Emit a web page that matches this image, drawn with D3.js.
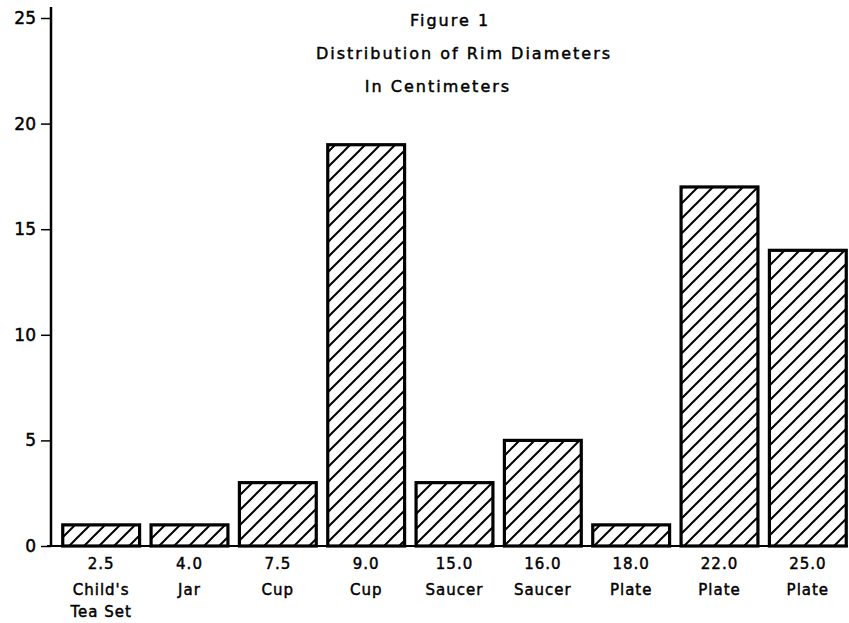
<!DOCTYPE html>
<html>
<head>
<meta charset="utf-8">
<script src="https://cdn.jsdelivr.net/npm/d3@7"></script>
<style>
  body { margin: 0; background: #fff; }
  text { font-family: "DejaVu Sans", sans-serif; fill: #000; stroke: #000; stroke-width: 0.45px; }
</style>
</head>
<body>
<script>
// Rim diameter bins (cm), vessel type and count
const sizes = ["2.5", "4.0", "7.5", "9.0", "15.0", "16.0", "18.0", "22.0", "25.0"];
const vessels = [["Child's", "Tea Set"], ["Jar"], ["Cup"], ["Cup"], ["Saucer"], ["Saucer"], ["Plate"], ["Plate"], ["Plate"]];
const counts = [1, 1, 3, 19, 3, 5, 1, 17, 14];
const yTicks = [0, 5, 10, 15, 20, 25];
const titleLines = ["Figure 1", "Distribution of Rim Diameters", "In Centimeters"];

const width = 849, height = 623;
const margin = {top: 18, right: 0, bottom: 77, left: 51};

const svg = d3.select("body").append("svg")
    .attr("width", width)
    .attr("height", height);

// diagonal "/" hatching
const pat = svg.append("defs").append("pattern")
    .attr("id", "hatch")
    .attr("patternUnits", "userSpaceOnUse")
    .attr("width", 15)
    .attr("height", 15);
pat.append("rect").attr("width", 15).attr("height", 15).attr("fill", "#fff");
pat.append("path")
    .attr("d", "M-2,2 L2,-2 M0,15 L15,0 M13,17 L17,13")
    .attr("stroke", "#000")
    .attr("stroke-width", 2);

let x = d3.scaleBand()
    .domain(sizes)
    .range([57, 852])
    .paddingInner(0.13)
    .paddingOuter(0.065);

let y = d3.scaleLinear()
    .domain([0, 25])
    .range([546, 18]);

// title, each line sits a bit off-centre like the original
const titleX = [450, 464, 438];
svg.selectAll(".title")
    .data(titleLines)
    .enter().append("text")
    .attr("class", "title")
    .attr("x", (d, i) => titleX[i])
    .attr("y", (d, i) => 26 + i * 33)
    .attr("text-anchor", "middle")
    .style("font-size", "16px")
    .style("letter-spacing", "2px")
    .text(d => d);

// bars
svg.selectAll(".bar")
    .data(counts)
    .enter().append("rect")
    .attr("class", "bar")
    .attr("x", (d, i) => x(sizes[i]))
    .attr("y", d => y(d))
    .attr("width", x.bandwidth())
    .attr("height", d => y(0) - y(d))
    .attr("fill", "url(#hatch)")
    .attr("stroke", "#000")
    .attr("stroke-width", 3.2);

// y axis
let yAxis = d3.axisLeft(y)
    .tickValues(yTicks)
    .tickSize(10)
    .tickPadding(5)
    .tickSizeOuter(0);

let gy = svg.append("g")
    .attr("transform", "translate(" + margin.left + ",0)")
    .call(yAxis);
gy.select(".domain").remove();
gy.selectAll("line").attr("stroke-width", 1.5);
gy.selectAll("text").style("font-size", "17px").style("font-family", "DejaVu Sans");
gy.append("line")
    .attr("x1", 0).attr("x2", 0)
    .attr("y1", 7).attr("y2", y(0))
    .attr("stroke", "#000")
    .attr("stroke-width", 2.5);

// x axis: baseline plus two/three-line labels
let xAxis = d3.axisBottom(x).tickSize(0).tickPadding(0).tickFormat("");
let gx = svg.append("g")
    .attr("transform", "translate(0," + y(0) + ")")
    .call(xAxis);
gx.select(".domain").remove();
gx.append("line")
    .attr("x1", 47).attr("x2", 848)
    .attr("stroke", "#000")
    .attr("stroke-width", 2);

gx.selectAll(".tick").each(function(d, i) {
    let t = d3.select(this).append("text")
        .attr("text-anchor", "middle")
        .style("font-size", "15px")
        .style("letter-spacing", "1px");
    t.append("tspan").attr("x", 0).attr("y", 23).text(d);
    vessels[i].forEach((v, j) => {
        t.append("tspan").attr("x", 0).attr("y", 49 + j * 22).text(v);
    });
});
</script>
</body>
</html>
